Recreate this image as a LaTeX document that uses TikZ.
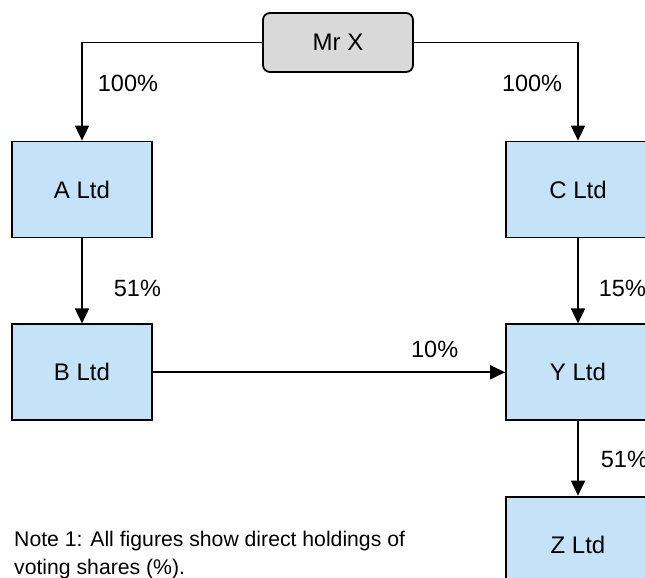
\documentclass[tikz,border=0pt]{standalone}
\usepackage{fontspec}
\setmainfont{Liberation Sans}
\usetikzlibrary{arrows.meta,positioning}
\definecolor{Sky}{HTML}{C5E3F8}
\definecolor{Shade}{HTML}{D9D9D9}
\tikzset{
  company/.style={draw=black, fill=Sky, line width=1.8pt, minimum width=140pt, minimum height=96pt, inner sep=0pt, font=\fontsize{24}{28}\selectfont},
  owner/.style={draw=black, fill=Shade, line width=1.8pt, rounded corners=7pt, minimum width=150pt, minimum height=59pt, inner sep=0pt, font=\fontsize{24}{28}\selectfont},
  share/.style={inner sep=0pt, font=\fontsize{23.5}{28}\selectfont},
  arrow/.style={-{Triangle[length=15pt,width=14pt]}, line width=1.8pt, draw=black}
}
\begin{document}
\begin{tikzpicture}[x=1pt, y=-1pt]
  \useasboundingbox (0,0) rectangle (645,578);
  \node[owner] (mrx) at (338,42.5) {Mr X};

  \node[company] (altd) at (82,189.5) {A Ltd};
  \node[company, below=85pt of altd] (bltd) {B Ltd};
  \node[company, minimum width=144pt] (cltd) at (578,189.5) {C Ltd};
  \node[company, minimum width=144pt, below=85pt of cltd] (yltd) {Y Ltd};
  \node[company, minimum width=144pt, below=74.5pt of yltd] (zltd) {Z Ltd};

  \draw[arrow] (mrx.west) -| node[share, pos=0.71, anchor=west, xshift=15pt] {100\%} (altd.north);
  \draw[arrow] (mrx.east) -| node[share, pos=0.71, anchor=east, xshift=-15pt] {100\%} (cltd.north);
  \draw[arrow] (altd) -- node[share, pos=0.59, anchor=west, xshift=31pt] {51\%} (bltd);
  \draw[arrow] (cltd) -- node[share, pos=0.59, anchor=west, xshift=20pt] {15\%} (yltd);
  \draw[arrow] (yltd) -- node[share, pos=0.52, anchor=west, xshift=22pt] {51\%} (zltd);
  \draw[arrow] (bltd.east) -- node[share, pos=0.8, anchor=south, yshift=14pt] {10\%} (bltd.east -| yltd.west);

  \node[anchor=north west, align=left, inner sep=0pt, font=\fontsize{21.2}{28}\selectfont] (note) at (14,530.5) {Note 1: All figures show direct holdings of\\voting shares (\%).};
\end{tikzpicture}
\end{document}
